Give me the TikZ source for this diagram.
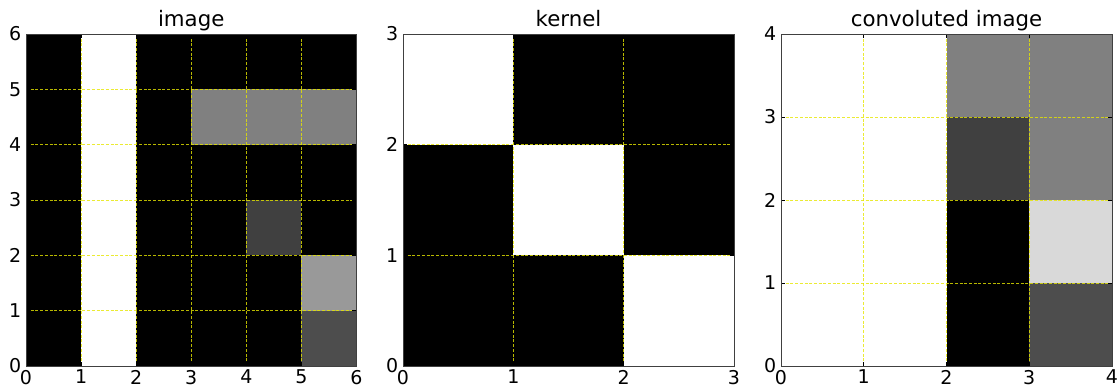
\documentclass[tikz,border=0pt]{standalone}
\usepackage{fontspec}
\setmainfont{DejaVu Sans}
\definecolor{gA}{RGB}{128,128,128}
\definecolor{gB}{RGB}{64,64,64}
\definecolor{gC}{RGB}{153,153,153}
\definecolor{gD}{RGB}{77,77,77}
\definecolor{gE}{RGB}{217,217,217}
\definecolor{gridyel}{RGB}{230,230,0}
\tikzset{
  gridline/.style={draw=gridyel, line width=0.9pt, dash pattern=on 3pt off 1.7pt, opacity=0.8},
  frame/.style={draw=black!75, line width=0.9pt},
  tickmark/.style={draw=black, line width=0.6pt},
  ticklab/.style={font=\fontsize{19}{21}\selectfont, inner sep=0pt},
  titlelab/.style={font=\fontsize{21.3}{24}\selectfont, inner sep=0pt, anchor=base},
}
\newcommand\cellfill[3]{\fill[#1] (#2,#3) rectangle ++(1,1);}
\newcommand\axesdeco[1]{%
  \foreach \i in {1,...,\numexpr#1-1\relax}{
    \draw[gridline] (\i,0) -- (\i,#1);
    \draw[gridline] (0,\i) -- (#1,\i);
  }
  \foreach \i in {1,...,\numexpr#1-1\relax}{
    \draw[tickmark] (\i,0) -- ++(0,4pt);
    \draw[tickmark] (\i,#1) -- ++(0,-4pt);
    \draw[tickmark] (0,\i) -- ++(4pt,0);
    \draw[tickmark] (#1,\i) -- ++(-4pt,0);
  }
  \draw[frame] (0,0) rectangle (#1,#1);
  \foreach \i in {0,...,#1}{
    \node[ticklab, anchor=north] (xl\i) at ([yshift=-3.8pt]\i,0) {\i};
    \node[ticklab, anchor=east] (yl\i) at ([xshift=-4.5pt]0,\i) {\i};
  }
}
\begin{document}
\begin{tikzpicture}[x=1pt,y=1pt]
\useasboundingbox (0,0) rectangle (1119,385);
\fill[white] (0,0) rectangle (1119,385);

% ---------------- panel 1: image ----------------
\begin{scope}[shift={(26,19)}, x=55.08pt, y=55.33pt]
  \fill[black] (0,0) rectangle (6,6);
  \fill[white] (1,0) rectangle (2,6);
  \fill[gA] (3,4) rectangle (6,5);
  \cellfill{gB}{4}{2}
  \cellfill{gC}{5}{1}
  \cellfill{gD}{5}{0}
  \axesdeco{6}
  \node[titlelab] (t1) at (3,6) [yshift=7.3pt] {image};
\end{scope}

% ---------------- panel 2: kernel ----------------
\begin{scope}[shift={(403,19)}, x=110.33pt, y=110.67pt]
  \fill[black] (0,0) rectangle (3,3);
  \cellfill{white}{0}{2}
  \cellfill{white}{1}{1}
  \cellfill{white}{2}{0}
  \axesdeco{3}
  \node[titlelab] (t2) at (1.5,3) [yshift=7.3pt] {kernel};
\end{scope}

% ---------------- panel 3: convoluted image ----------------
\begin{scope}[shift={(781,19)}, x=82.75pt, y=83pt]
  \fill[white] (0,0) rectangle (4,4);
  \cellfill{gA}{2}{3}
  \cellfill{gA}{3}{3}
  \cellfill{gB}{2}{2}
  \cellfill{gA}{3}{2}
  \cellfill{black}{2}{1}
  \cellfill{gE}{3}{1}
  \cellfill{black}{2}{0}
  \cellfill{gD}{3}{0}
  \axesdeco{4}
  \node[titlelab] (t3) at (2,4) [yshift=7.3pt] {convoluted image};
\end{scope}
\end{tikzpicture}
\end{document}
